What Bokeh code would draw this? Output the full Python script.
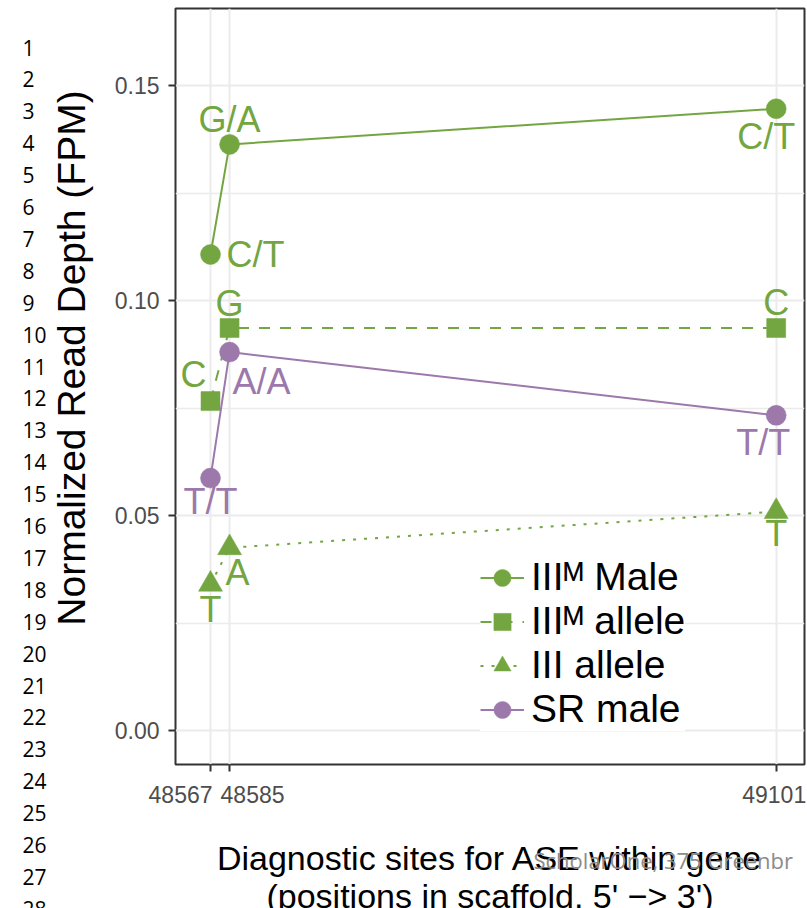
import math
import pandas as pd
from bokeh.plotting import figure
from bokeh.layouts import row, column
from bokeh.models import (ColumnDataSource, Range1d, FixedTicker, Legend,
                          LegendItem, NumeralTickFormatter)
from bokeh.core.properties import value
from bokeh.embed import file_html
from bokeh.resources import INLINE

# ---------------- data ----------------
positions = [48567, 48585, 49101]
iiim_male = [0.1107, 0.1363, 0.1446]
iiim_allele = [0.0766, 0.0936, 0.0936]
iii_allele = [0.0340, 0.0425, 0.0509]
sr_male = [0.0587, 0.0880, 0.0733]

iiim_male_text = ["C/T", "G/A", "C/T"]
iiim_allele_text = ["C", "G", "C"]
iii_allele_text = ["T", "A", "T"]
sr_male_text = ["T/T", "A/A", "T/T"]

series_names = ["III\u1D39 Male", "III\u1D39 allele", "III allele", "SR male"]
y_ticks = [0.0, 0.05, 0.10, 0.15]
y_minor_ticks = [0.025, 0.075, 0.125]
line_numbers = list(range(1, 29))

x_title_1 = "Diagnostic sites for ASE within gene"
x_title_2 = "(positions in scaffold, 5' \u2212> 3')"
y_title = "Normalized Read Depth (FPM)"
watermark = "ScholarOne, 375 Greenbr"

# ---------------- style / geometry ----------------
GREEN = "#73A641"
PURPLE = "#9C78AB"
FONT = "Liberation Sans"
PX_X = 1.05936          # pixels per base position
PX_Y = 4300.0           # pixels per FPM unit
LEFT_W = 100            # width of the line-number strip
MAIN_W, MAIN_H = 707, 772
BOT_H = 908 - MAIN_H
FR_L, FR_R, FR_T, FR_B = 75, 3, 8, 8    # main frame borders
X0_PIX = 110            # pixel offset of first site inside main figure (page 210)

x_start = positions[0] - (X0_PIX - FR_L) / PX_X
x_end = positions[0] + (MAIN_W - FR_R - X0_PIX) / PX_X
y0_pix = 730 - FR_T
y_start = -((MAIN_H - FR_B) - 730) / PX_Y
y_end = y0_pix / PX_Y

series = [
    dict(name=series_names[0], y=iiim_male, text=iiim_male_text, color=GREEN,
         marker="circle", size=20, dash="solid",
         lab=[("left", 16, 0), ("center", 0, -25), ("center", -10, 28)]),
    dict(name=series_names[1], y=iiim_allele, text=iiim_allele_text, color=GREEN,
         marker="square", size=19, dash="11 10",
         lab=[("center", -17, -27), ("center", 0, -25), ("center", 0, -26)]),
    dict(name=series_names[2], y=iii_allele, text=iii_allele_text, color=GREEN,
         marker="triangle", size=24, dash="3 8",
         lab=[("center", 0, 25), ("center", 8, 25), ("center", 0, 22)]),
    dict(name=series_names[3], y=sr_male, text=sr_male_text, color=PURPLE,
         marker="circle", size=20, dash="solid",
         lab=[("center", 0, 23), ("left", 3, 29), ("center", -13, 27)]),
]

# ---------------- main plot ----------------
p = figure(width=MAIN_W, height=MAIN_H, output_backend="svg", toolbar_location=None,
           x_range=Range1d(x_start, x_end), y_range=Range1d(y_start, y_end),
           min_border_left=FR_L, min_border_right=FR_R, min_border_top=FR_T,
           min_border_bottom=FR_B, frame_align=False)
p.background_fill_color = "white"
p.border_fill_color = "white"
p.outline_line_color = "#333333"
p.outline_line_width = 2

p.yaxis.ticker = FixedTicker(ticks=y_ticks, minor_ticks=y_minor_ticks)
p.yaxis.formatter = NumeralTickFormatter(format="0.00")
p.xaxis.ticker = FixedTicker(ticks=positions, minor_ticks=[])
p.xaxis.major_label_overrides = {v: "" for v in positions}
p.xaxis.major_label_text_font_size = "0px"
p.xaxis.major_label_standoff = 0
p.yaxis.major_label_text_font_size = "23px"
p.yaxis.major_label_standoff = 9
for ax in (p.xaxis[0], p.yaxis[0]):
    ax.axis_line_color = None
    ax.major_tick_out = 7
    ax.major_tick_in = 0
    ax.minor_tick_out = 0
    ax.minor_tick_in = 0
    ax.major_tick_line_color = "#333333"
    ax.major_tick_line_width = 2
    ax.major_label_text_font = FONT
    ax.major_label_text_color = "#4D4D4D"

p.xgrid.ticker = FixedTicker(ticks=positions, minor_ticks=[])
p.xgrid.grid_line_color = "#EBEBEB"
p.xgrid.grid_line_width = 2
p.ygrid.grid_line_color = "#EBEBEB"
p.ygrid.grid_line_width = 2
p.ygrid.minor_grid_line_color = "#EBEBEB"
p.ygrid.minor_grid_line_width = 1.5

items = []
text_rows = []
for s in series:
    src = ColumnDataSource(dict(x=positions, y=s["y"]))
    lr = p.line("x", "y", source=src, line_color=s["color"], line_width=2,
                line_dash=s["dash"])
    sr = p.scatter("x", "y", source=src, marker=s["marker"], size=s["size"],
                   fill_color=s["color"], line_color=s["color"], line_width=0.5)
    items.append(LegendItem(label=s["name"], renderers=[lr, sr]))
    for xv, yv, t, (al, dx, dy) in zip(positions, s["y"], s["text"], s["lab"]):
        text_rows.append(dict(x=xv, y=yv, text=t, align=al, dx=dx, dy=dy,
                              color=s["color"]))

tdf = pd.DataFrame(text_rows)
for al in ("left", "center"):
    sub = tdf[tdf["align"] == al]
    p.text("x", "y", text="text", source=ColumnDataSource(sub),
           x_offset="dx", y_offset="dy", text_color="color",
           text_font=value(FONT), text_font_size="36px",
           text_align=al, text_baseline="middle")

legend = Legend(items=items, location=(305, 33), margin=0, padding=20,
                spacing=-2, glyph_width=44, glyph_height=43, label_height=43,
                label_standoff=7, label_text_font=FONT,
                label_text_font_size="39px", label_text_color="black",
                border_line_color=None, background_fill_color="white",
                background_fill_alpha=1.0)
p.add_layout(legend)


def blank(fig):
    fig.background_fill_color = "white"
    fig.border_fill_color = "white"
    fig.outline_line_color = None
    fig.grid.visible = False
    fig.min_border = 0
    return fig


# ---------------- left strip: line numbers and y title ----------------
left = blank(figure(width=LEFT_W, height=908, output_backend="svg",
                    toolbar_location=None, x_range=Range1d(0, LEFT_W),
                    y_range=Range1d(908, 0), x_axis_location=None,
                    y_axis_location=None, frame_align=False))
ln_src = ColumnDataSource(dict(x=[22] * len(line_numbers),
                               y=[47 + (n - 1) * 31.9 for n in line_numbers],
                               t=[str(n) for n in line_numbers]))
left.text("x", "y", text="t", source=ln_src, text_font=value("Open Sans"),
          text_font_size="21px", text_color="black", text_align="left",
          text_baseline="middle")
left.text(x=[70.5], y=[357.5], text=[y_title], angle=math.pi / 2,
          text_font=value(FONT), text_font_size="39px", text_color="black",
          text_align="center", text_baseline="middle")

# ---------------- bottom strip: tick labels, x title, watermark ----------------
bx_start = positions[0] - X0_PIX / PX_X
bx_end = positions[0] + (MAIN_W - X0_PIX) / PX_X
bottom = blank(figure(width=MAIN_W, height=BOT_H, output_backend="svg",
                      toolbar_location=None, x_range=Range1d(bx_start, bx_end),
                      y_range=Range1d(BOT_H, 0), x_axis_location=None,
                      y_axis_location=None, frame_align=False))
tick_align = ["right", "left", "center"]
tick_dx = [2, -9, -2]
for v, al, dx in zip(positions, tick_align, tick_dx):
    bottom.text(x=[v], y=[794 - MAIN_H], text=[str(v)], x_offset=dx,
                text_font=value(FONT), text_font_size="23px",
                text_color="#4D4D4D", text_align=al, text_baseline="alphabetic")
x_mid = (x_start + x_end) / 2
bottom.text(x=[x_mid, x_mid], y=[857 - MAIN_H, 895 - MAIN_H],
            text=[x_title_1, x_title_2], text_font=value(FONT),
            text_font_size="34px", text_color="black", text_align="center",
            text_baseline="alphabetic")
bottom.text(x=[positions[0] + (533 - 210) / PX_X], y=[859 - MAIN_H],
            text=[watermark], text_font=value("Open Sans"),
            text_font_size="22px", text_color="#8C8C8C", text_align="left",
            text_baseline="alphabetic")

layout = row(left, column(p, bottom, spacing=0), spacing=0)
open("out.html", "w").write(file_html(layout, INLINE))
